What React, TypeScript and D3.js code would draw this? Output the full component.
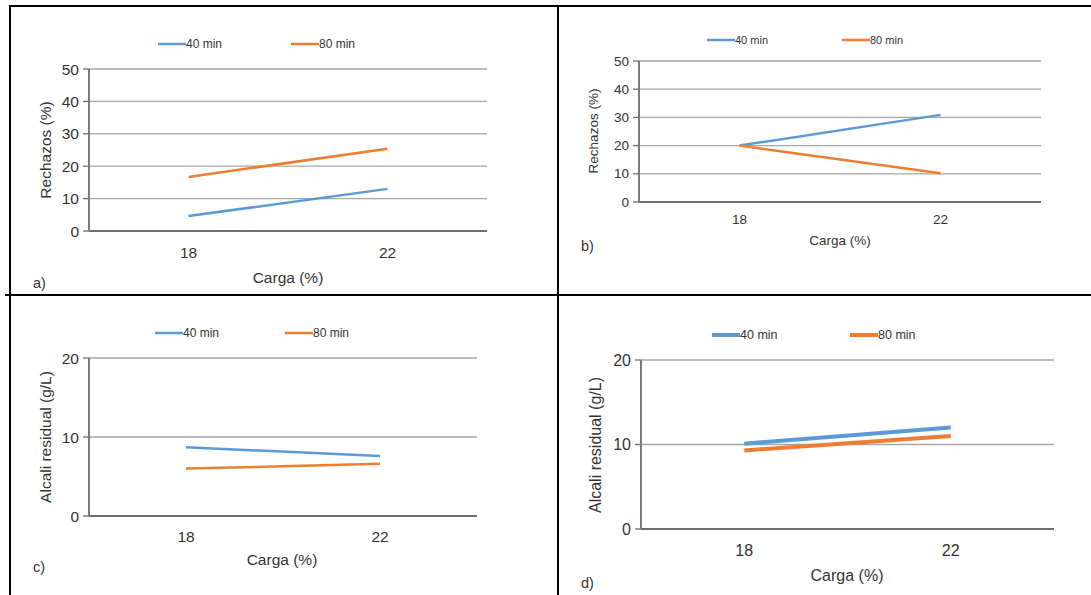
import * as d3 from 'd3'

const categories = ['18', '22']
const seriesNames = ['40 min', '80 min']
const colors = ['#5B9BD5', '#ED7D31']

const rechazosA40 = [4.6, 13]
const rechazosA80 = [16.7, 25.4]
const rechazosB40 = [20, 30.9]
const rechazosB80 = [20, 10.2]
const alcaliC40 = [8.7, 7.6]
const alcaliC80 = [6.0, 6.6]
const alcaliD40 = [10.1, 12.0]
const alcaliD80 = [9.3, 11.0]

const ticksRechazos = [0, 10, 20, 30, 40, 50]
const ticksAlcali = [0, 10, 20]

const panels = [
  { tag: 'a)', data: [rechazosA40, rechazosA80], ticks: ticksRechazos, yTitle: 'Rechazos (%)',
    x0: 89, x1: 487, yTop: 69, yBot: 231, legY: 44, leg: [158, 291], xTitle: [288, 277], tagPos: [33, 283],
    yTitlePos: [45, 150], tickY: 252, font: 15.5, legFont: 12, lw: 2.5 },
  { tag: 'b)', data: [rechazosB40, rechazosB80], ticks: ticksRechazos, yTitle: 'Rechazos (%)',
    x0: 639, x1: 1041, yTop: 61, yBot: 202, legY: 40, leg: [707, 842], xTitle: [840, 240], tagPos: [581, 246],
    yTitlePos: [593, 131], tickY: 219, font: 13.5, legFont: 11, lw: 2.5 },
  { tag: 'c)', data: [alcaliC40, alcaliC80], ticks: ticksAlcali, yTitle: 'Alcali residual (g/L)',
    x0: 89, x1: 477, yTop: 358, yBot: 516, legY: 333, leg: [155, 285], xTitle: [282, 559], tagPos: [33, 567],
    yTitlePos: [45, 437], tickY: 536, font: 15.5, legFont: 12, lw: 2.5 },
  { tag: 'd)', data: [alcaliD40, alcaliD80], ticks: ticksAlcali, yTitle: 'Alcali residual (g/L)',
    x0: 641, x1: 1054, yTop: 360, yBot: 529, legY: 335, leg: [712, 850], xTitle: [847, 575], tagPos: [581, 583],
    yTitlePos: [595, 445], tickY: 550, font: 16, legFont: 12.5, lw: 4 },
]

function Panel({ p }: { p: any }) {
  const x = d3.scaleBand().domain(categories).range([p.x0, p.x1]).padding(0)
  const y = d3.scaleLinear().domain([0, d3.max(p.ticks) as number]).range([p.yBot, p.yTop])
  const cx = (c: string) => (x(c) as number) + x.bandwidth() / 2
  const line = d3.line<number>().x((v, i) => cx(categories[i])).y(v => y(v))
  const tc = '#333'
  return (
    <g fontFamily="'Liberation Sans', Arial, sans-serif">
      {p.ticks.map((t: number) => (
        <g key={t}>
          <line x1={p.x0} x2={p.x1} y1={y(t)} y2={y(t)} stroke={t === 0 ? '#6e6e6e' : '#a6a6a6'} strokeWidth={t === 0 ? 2 : 1.3} />
          <line x1={p.x0 - 6} x2={p.x0} y1={y(t)} y2={y(t)} stroke="#6e6e6e" strokeWidth={1.3} />
          <text x={p.x0 - 10} y={y(t)} textAnchor="end" dominantBaseline="central" fontSize={p.font} fill={tc}>{t}</text>
        </g>
      ))}
      <line x1={p.x0} x2={p.x0} y1={p.yTop} y2={p.yBot} stroke="#7a7a7a" strokeWidth={2} />
      {categories.map(c => (
        <text key={c} x={cx(c)} y={p.tickY} textAnchor="middle" dominantBaseline="central" fontSize={p.font} fill={tc}>{c}</text>
      ))}
      {p.data.map((s: number[], i: number) => (
        <path key={i} d={line(s) as string} fill="none" stroke={colors[i]} strokeWidth={p.lw} />
      ))}
      {seriesNames.map((n, i) => (
        <g key={n}>
          <line x1={p.leg[i]} x2={p.leg[i] + 28} y1={p.legY} y2={p.legY} stroke={colors[i]} strokeWidth={p.lw} />
          <text x={p.leg[i] + 28} y={p.legY} dominantBaseline="central" fontSize={p.legFont} fill={tc}>{n}</text>
        </g>
      ))}
      <text x={p.xTitle[0]} y={p.xTitle[1]} textAnchor="middle" dominantBaseline="central" fontSize={p.font} fill={tc}>Carga (%)</text>
      <text transform={`translate(${p.yTitlePos[0]},${p.yTitlePos[1]}) rotate(-90)`} textAnchor="middle" dominantBaseline="central" fontSize={p.font} fill={tc}>{p.yTitle}</text>
      <text x={p.tagPos[0]} y={p.tagPos[1]} dominantBaseline="central" fontSize={14.5} fill={tc}>{p.tag}</text>
    </g>
  )
}

export default function App() {
  return (
    <svg width={1091} height={595} style={{ position: 'absolute', left: 0, top: 0, background: '#fff' }}>
      <rect width={1091} height={595} fill="#fff" />
      <line x1={10} x2={1091} y1={6} y2={6} stroke="#000" strokeWidth={2} />
      <line x1={10} x2={10} y1={5} y2={595} stroke="#000" strokeWidth={2} />
      <line x1={558} x2={558} y1={5} y2={595} stroke="#000" strokeWidth={2} />
      <line x1={5} x2={1091} y1={295} y2={295} stroke="#000" strokeWidth={2} />
      {panels.map(p => <Panel key={p.tag} p={p} />)}
    </svg>
  )
}
